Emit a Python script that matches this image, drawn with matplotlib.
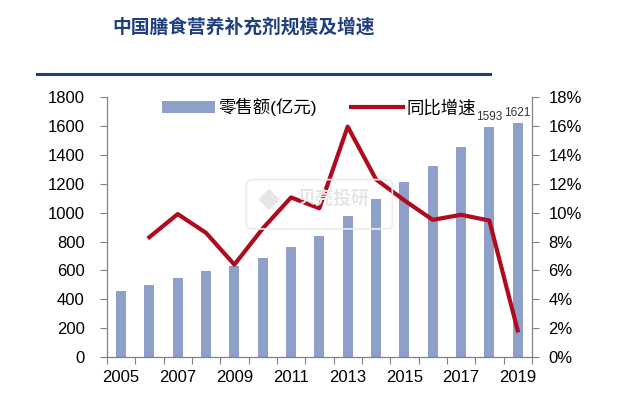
import numpy as np
import matplotlib.pyplot as plt
from matplotlib.patches import FancyBboxPatch
from matplotlib.ticker import FuncFormatter

plt.rcParams['font.family'] = ['Liberation Sans', 'Noto Sans CJK SC', 'DejaVu Sans']

years = ['2005', '2006', '2007', '2008', '2009', '2010', '2011', '2012',
         '2013', '2014', '2015', '2016', '2017', '2018', '2019']
sales = [459, 496, 545, 593, 630, 685, 762, 840,
         976, 1094, 1212, 1325, 1456, 1593, 1621]
growth_years = years[1:]
growth = [8.3, 9.9, 8.6, 6.4, 8.9, 11.05, 10.3, 15.95,
          12.3, 10.85, 9.5, 9.85, 9.45, 1.85]
labelled = {'2018': 1593, '2019': 1621}

bar_color = '#8E9FC9'
line_color = '#B00A1E'
axis_color = '#808080'

fig = plt.figure(figsize=(6.4, 4.11), dpi=100)
ax = fig.add_axes([0.167, 0.131, 0.664, 0.633])

# faint watermark behind the data
wm = FancyBboxPatch((0.385, 0.443), 0.228, 0.12, boxstyle='round,pad=0,rounding_size=0.01',
                    transform=fig.transFigure, fc='none', ec='#ECECEC', lw=1.2, zorder=0)
fig.patches.append(wm)
fig.text(0.52, 0.518, '贝壳投研', ha='center', va='center', fontsize=13,
         color='#E6E6E6', fontweight='bold', family=['Noto Sans CJK SC'], zorder=0)
fig.text(0.42, 0.51, '◆', ha='center', va='center', fontsize=16, color='#E6E6E6', zorder=0)

x = np.arange(len(years))
ax.bar(x, sales, width=0.35, color=bar_color, label='零售额(亿元)', zorder=2)
ax.set_xlim(-0.5, len(years) - 0.5)
ax.set_ylim(0, 1800)
ax.set_yticks(np.arange(0, 1801, 200))
ax.patch.set_alpha(0)

# ticks sit between categories, labels every other year
ax.set_xticks(np.arange(-0.5, len(years), 1.0))
ax.set_xticklabels([])
ax.set_xticks(x[::2], minor=True)
ax.set_xticklabels(years[::2], minor=True)
ax.tick_params(axis='x', which='major', direction='out', length=5, color=axis_color)
ax.tick_params(axis='x', which='minor', length=0, labelsize=12, pad=9)
ax.tick_params(axis='y', direction='out', length=5, color=axis_color, labelsize=12, pad=11)

for name, v in labelled.items():
    i = years.index(name)
    ax.text(x[i], v + 30, str(v), ha='center', va='bottom', fontsize=8.5, color='#333333')

ax2 = ax.twinx()
gx = [years.index(y) for y in growth_years]
ax2.plot(gx, growth, color=line_color, lw=3, label='同比增速', zorder=3)
ax2.set_ylim(0, 18)
ax2.set_yticks(np.arange(0, 19, 2))
ax2.yaxis.set_major_formatter(FuncFormatter(lambda v, p: f'{v:.0f}%'))
ax2.tick_params(axis='y', direction='out', length=5, color=axis_color, labelsize=12, pad=7)

for a in (ax, ax2):
    a.spines['top'].set_visible(False)
    for s in ('left', 'right', 'bottom'):
        a.spines[s].set_color(axis_color)

h1, l1 = ax.get_legend_handles_labels()
h2, l2 = ax2.get_legend_handles_labels()
ax2.legend(h1 + h2, l1 + l2, loc='upper center', ncol=2, frameon=False,
           fontsize=12.5, bbox_to_anchor=(0.5, 1.055), handlelength=3.0,
           columnspacing=2.0, handletextpad=0.2)

fig.text(0.38, 0.935, '中国膳食营养补充剂规模及增速', ha='center', va='center',
         fontsize=13.5, fontweight='bold', color='#1F3F7F',
         family=['Noto Sans CJK SC'])
fig.add_artist(plt.Line2D([0.058, 0.765], [0.82, 0.82], color='#1F3F7F', lw=2.2))

fig.savefig('out.png', dpi=100)
